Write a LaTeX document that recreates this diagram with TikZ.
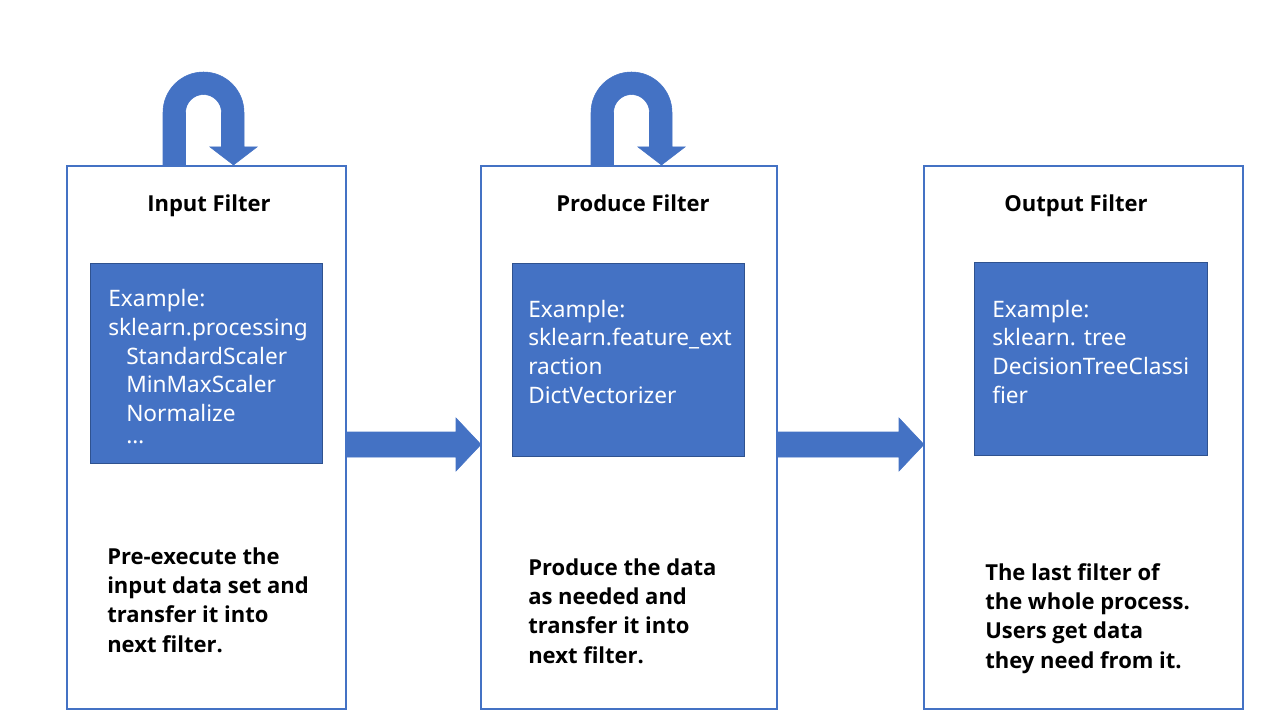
\documentclass[tikz,border=0pt]{standalone}
\usepackage{fontspec}
\setmainfont{Noto Sans}
\newfontfamily\boldfont{Open Sans}
\usetikzlibrary{calc}
\definecolor{bluefill}{HTML}{4472C4}
\definecolor{blueedge}{HTML}{2F528F}
\newcommand\loopflow[1]{%
  \begin{scope}[shift={(#1)}]
    \fill[flow] (-40.5,0) -- (-40.5,-53.5)
      .. controls (-40.5,-75.87) and (-22.37,-94) .. (0,-94)
      .. controls (22.37,-94) and (40.5,-75.87) .. (40.5,-53.5)
      -- (40.5,-19) -- (53.5,-19) -- (30,-1) -- (6.5,-19) -- (18,-19) -- (18,-53.5)
      .. controls (18,-63.44) and (9.94,-71.5) .. (0,-71.5)
      .. controls (-9.94,-71.5) and (-18,-63.44) .. (-18,-53.5)
      -- (-18,0) -- cycle;
  \end{scope}}
\newcommand\hflow[2]{%
  \fill[flow] ($(#1.east|-ay)+(0,-12.5)$) -- ($(#2.west|-ay)+(-25,-12.5)$)
    -- ($(#2.west|-ay)+(-25,-26.5)$) -- (#2.west|-ay)
    -- ($(#2.west|-ay)+(-25,26.5)$) -- ($(#2.west|-ay)+(-25,12.5)$)
    -- ($(#1.east|-ay)+(0,12.5)$) -- cycle;}
\begin{document}
\begin{tikzpicture}[x=0.75pt,y=-0.75pt,
  filterbox/.style={draw=bluefill, line width=1.5pt, fill=white, inner sep=0pt, outer sep=0pt},
  examplebox/.style={draw=blueedge, line width=0.75pt, fill=bluefill, inner sep=0pt, outer sep=0pt},
  title/.style={font=\boldfont\bfseries\fontsize{16.5}{20}\selectfont, anchor=base, inner sep=0pt},
  extext/.style={font=\fontsize{17}{21.5}\selectfont, text=white, align=left, anchor=base west, inner sep=0pt},
  desc/.style={font=\boldfont\bfseries\fontsize{16.5}{22}\selectfont, align=left, anchor=base west, inner sep=0pt},
  flow/.style={fill=bluefill, draw=bluefill, line width=0.4pt}]
\fill[white] (0,0) rectangle (1280,720);
\useasboundingbox (0,0) rectangle (1280,720);
\coordinate (ay) at (0,444.5);
% filter boxes
\node[filterbox, minimum width=209.25pt, minimum height=407.25pt] (f1) at (206.5,437.5) {};
\node[filterbox, minimum width=222pt, minimum height=407.25pt] (f2) at (629,437.5) {};
\node[filterbox, minimum width=239.25pt, minimum height=407.25pt] (f3) at (1083.5,437.5) {};
% loop arrows
\loopflow{$(f1.north)+(-3,0)$}
\loopflow{$(f2.north)+(2.5,0)$}
% flow arrows
\hflow{f1}{f2}
\hflow{f2}{f3}
% titles
\node[title] (t1) at (209,211.5) {Input Filter};
\node[title] (t2) at (633,211.5) {Produce Filter};
\node[title] (t3) at (1076,211.5) {Output Filter};
% example boxes
\node[examplebox, minimum width=174pt, minimum height=150pt] (e1) at (206,363) {};
\node[examplebox, minimum width=174pt, minimum height=144.75pt] (e2) at (628,359.5) {};
\node[examplebox, minimum width=174.75pt, minimum height=144.75pt] (e3) at (1090.5,358.5) {};
\node[extext] (x1) at (108,450) {Example:\\sklearn.processing\\\hspace*{13.5pt}StandardScaler\\\hspace*{13.5pt}MinMaxScaler\\\hspace*{13.5pt}Normalize\\\hspace*{13.5pt}\raisebox{5pt}{…}};
\node[extext] (x2) at (528,403) {Example:\\sklearn.feature\_ext\\raction\\DictVectorizer};
\node[extext] (x3) at (992,403) {Example:\\sklearn. tree\\DecisionTreeClassi\\fier};
% descriptions
\node[desc] (d1) at (107,652) {Pre-execute the\\input data set and\\transfer it into\\next filter.};
\node[desc] (d2) at (528,663) {Produce the data\\as needed and\\transfer it into\\next filter.};
\node[desc] (d3) at (985,668) {The last filter of\\the whole process.\\Users get data\\they need from it.};
\end{tikzpicture}
\end{document}
